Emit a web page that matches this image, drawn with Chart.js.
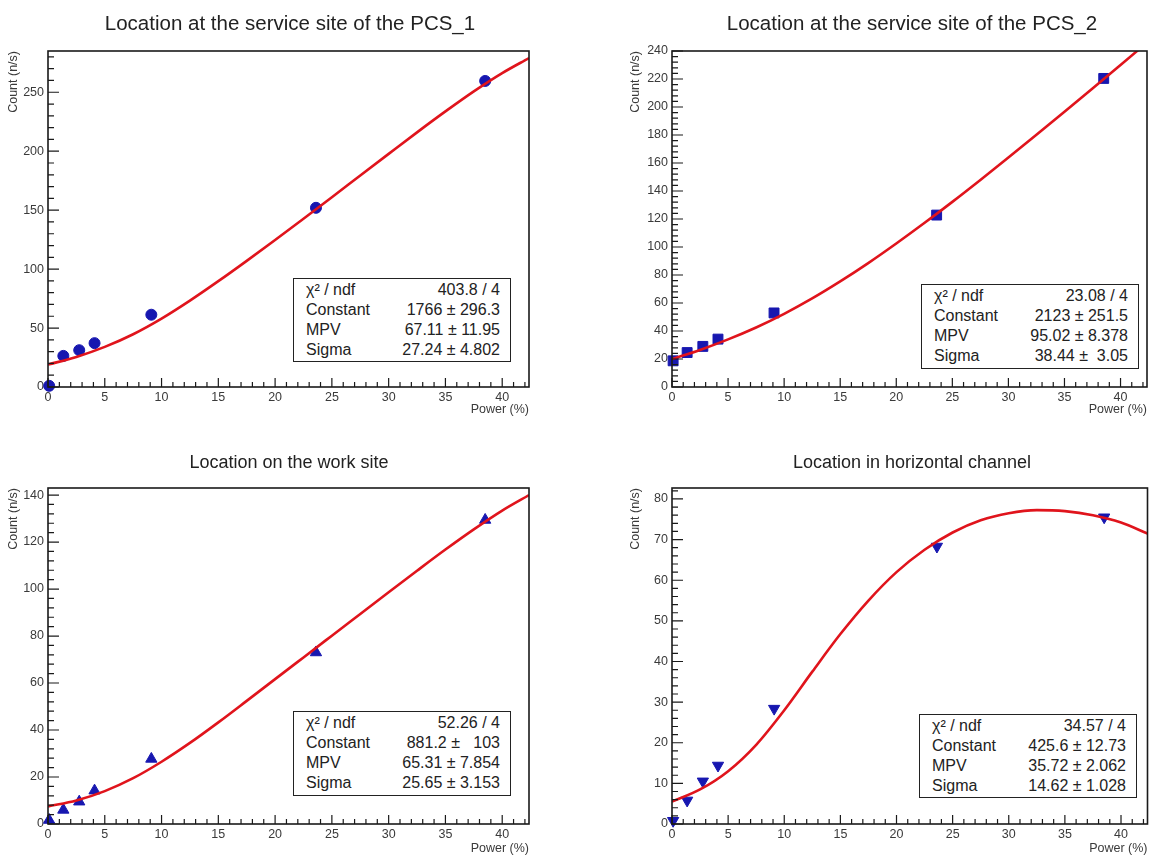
<!DOCTYPE html>
<html>
<head>
<meta charset="utf-8">
<script src="https://cdn.jsdelivr.net/npm/chart.js@4.4.1/dist/chart.umd.min.js"></script>
<style>
  body { margin: 0; background: #fff; font-family: 'Liberation Sans', Arial, sans-serif; }
  #wrap { position: relative; width: 1155px; height: 857px; overflow: hidden; }
  canvas { position: absolute; }
  .title { position: absolute; transform: translate(-50%, -50%); white-space: nowrap; color: #222; }
  .title.top { font-size: 20.5px; }
  .title.bottom { font-size: 18px; }
  .stats { position: absolute; box-sizing: border-box; border: 1.5px solid #222; background: #fff;
           font-size: 16px; color: #222; padding: 0 10px 0 12px; }
  .stats div { display: flex; justify-content: space-between; height: 20px; line-height: 20px; white-space: pre; }
</style>
</head>
<body>
<div id="wrap">
  <canvas id="c1" width="577" height="430" style="left:0;top:0"></canvas>
  <canvas id="c2" width="575" height="430" style="left:580px;top:0"></canvas>
  <canvas id="c3" width="577" height="427" style="left:0;top:430px"></canvas>
  <canvas id="c4" width="575" height="427" style="left:580px;top:430px"></canvas>
</div>
<script>
// measured points (power in %, count in n/s)
const power = [0.1, 1.35, 2.75, 4.1, 9.1, 23.6, 38.5];
const countPcs1 = [1, 26.4, 31.2, 37.2, 61.3, 152, 259.6];
const countPcs2 = [18.7, 24.6, 29, 34.2, 52.9, 122.8, 220.4];
const countWork = [1.7, 6, 9.5, 14.2, 27.7, 73, 129.4];
const countChannel = [0.8, 5.8, 10.5, 14.4, 28.4, 68.3, 75.5];

// landau fit curves
const fitPower = [0, 2.5, 5, 7.5, 10, 12.5, 15, 17.5, 20, 22.5, 25, 27.5, 30, 32.5, 35, 37.5, 40, 42.36];
const fitPcs1 = [19, 25.5, 34, 44.75, 58, 73.25, 89.75, 107, 124.75, 142.75, 161, 179.4, 197.75, 216, 233.75, 250.75, 266.25, 279];
const fitPcs2 = [20, 26.5, 34, 42.5, 52.25, 63.25, 75.4, 88.5, 102.5, 117.1, 132.25, 147.9, 163.9, 180.15, 196.65, 213.3, 230.05, 245.9];
const fitWork = [7.5, 10, 14, 19.5, 26.5, 34.5, 43.25, 52.4, 61.65, 70.9, 80.15, 89.4, 98.65, 107.8, 116.8, 125.4, 133.4, 140];
const fitChannel = [5.5, 8.5, 13, 19.5, 28, 37.5, 46.75, 55, 62, 67.5, 71.75, 74.75, 76.5, 77.25, 77, 76, 74.2, 71.5];

const titles = ['Location at the service site of the PCS_1', 'Location at the service site of the PCS_2',
                'Location on the work site', 'Location in horizontal channel'];

const statLabels = ['\u03c7\u00b2 / ndf', 'Constant', 'MPV', 'Sigma'];
const statPcs1 = ['403.8 / 4', '1766 \u00b1 296.3', '67.11 \u00b1 11.95', '27.24 \u00b1 4.802'];
const statPcs2 = ['23.08 / 4', '2123 \u00b1 251.5', '95.02 \u00b1 8.378', '38.44 \u00b1  3.05'];
const statWork = ['52.26 / 4', '881.2 \u00b1   103', '65.31 \u00b1 7.854', '25.65 \u00b1 3.153'];
const statChannel = ['34.57 / 4', '425.6 \u00b1 12.73', '35.72 \u00b1 2.062', '14.62 \u00b1 1.028'];

const yMax = [285, 240, 143, 82.7];
const yMajor = [50, 20, 20, 10];
const yMinor = [10, 4, 4, 2];

// ROOT-like frame with inner ticks
const rootFrame = {
  id: 'rootFrame',
  afterDraw(chart, args, opts) {
    const { ctx, chartArea: a, scales: { x, y } } = chart;
    ctx.save();
    ctx.strokeStyle = '#1a1a1a';
    ctx.lineWidth = 1.2;
    ctx.beginPath();
    for (let i = 0; i * opts.yMinor <= y.max + 1e-9; i++) {
      const py = y.getPixelForValue(i * opts.yMinor);
      const len = (i * opts.yMinor) % opts.yMajor === 0 ? 11 : 6;
      ctx.moveTo(a.left, py); ctx.lineTo(a.left + len, py);
    }
    for (let i = 0; i <= x.max + 1e-9; i++) {
      const px = x.getPixelForValue(i);
      const len = i % 5 === 0 ? 9 : 5;
      ctx.moveTo(px, a.bottom); ctx.lineTo(px, a.bottom - len);
    }
    ctx.stroke();
    ctx.lineWidth = 1.6;
    ctx.strokeRect(a.left, a.top, a.right - a.left, a.bottom - a.top);
    ctx.restore();
  }
};

const tickFont = { family: "'Liberation Sans', Arial, sans-serif", size: 12.5 };
const labelFont = { family: "'Liberation Sans', Arial, sans-serif", size: 12.5 };

const panels = [
  { id: 'c1', count: countPcs1, fit: fitPcs1, stats: statPcs1, marker: 'circle', r: 5.5, rot: 0,
    yw: 48, padTop: 51, padRight: 48, xh: 43, titlePad: 6.5, xTitlePad: 12.5,
    title: [290, 23, 'top'], box: [293, 278, 218, 84] },
  { id: 'c2', count: countPcs2, fit: fitPcs2, stats: statPcs2, marker: 'rect', r: 7, rot: 0,
    yw: 92, padTop: 51, padRight: 3, xh: 43, titlePad: 48.5, xTitlePad: 12.5,
    title: [912, 23, 'top'], box: [921, 284, 218, 85] },
  { id: 'c3', count: countWork, fit: fitWork, stats: statWork, marker: 'triangle', r: 6.5, rot: 0,
    yw: 48, padTop: 58, padRight: 48, xh: 33, titlePad: 6.5, xTitlePad: 0.5,
    title: [289, 462, 'bottom'], box: [293, 711, 218, 85] },
  { id: 'c4', count: countChannel, fit: fitChannel, stats: statChannel, marker: 'triangle', r: 6.5, rot: 180,
    yw: 92, padTop: 58, padRight: 3, xh: 33, titlePad: 48.5, xTitlePad: 0.5,
    title: [912, 462, 'bottom'], box: [919, 714, 218, 84] }
];

const wrap = document.getElementById('wrap');

panels.forEach((p, k) => {
  new Chart(document.getElementById(p.id), {
    type: 'scatter',
    data: {
      datasets: [
        {
          data: fitPower.map((x, i) => ({ x, y: p.fit[i] })),
          showLine: true,
          borderColor: '#e0141c',
          borderWidth: 2.6,
          pointRadius: 0,
          cubicInterpolationMode: 'monotone'
        },
        {
          data: power.map((x, i) => ({ x, y: p.count[i] })),
          pointStyle: p.marker,
          pointRotation: p.rot,
          pointRadius: p.r,
          backgroundColor: '#1717b0',
          borderColor: '#1717b0',
          borderWidth: 1,
          clip: false
        }
      ]
    },
    options: {
      responsive: false,
      animation: false,
      layout: { padding: { left: 0, top: p.padTop, right: p.padRight, bottom: 0 } },
      plugins: {
        legend: { display: false },
        tooltip: { enabled: false },
        rootFrame: { yMajor: yMajor[k], yMinor: yMinor[k] }
      },
      scales: {
        x: {
          type: 'linear', min: 0, max: 42.36,
          grid: { display: false, drawTicks: false }, border: { display: false },
          ticks: { stepSize: 5, includeBounds: false, autoSkip: false, maxRotation: 0,
                   font: tickFont, color: '#3a3a3a', padding: 3 },
          title: { display: true, text: 'Power (%)', align: 'end', font: labelFont, color: '#3a3a3a',
                   padding: { top: 0, bottom: p.xTitlePad } },
          afterFit: s => { s.height = p.xh; }
        },
        y: {
          type: 'linear', min: 0, max: yMax[k],
          grid: { display: false, drawTicks: false }, border: { display: false },
          ticks: { stepSize: yMajor[k], includeBounds: false, autoSkip: false,
                   font: tickFont, color: '#3a3a3a', padding: 4 },
          title: { display: true, text: 'Count (n/s)', align: 'end', font: labelFont, color: '#3a3a3a',
                   padding: { top: p.titlePad, bottom: 0 } },
          afterFit: s => { s.width = p.yw; }
        }
      }
    },
    plugins: [rootFrame]
  });

  const t = document.createElement('div');
  t.className = 'title ' + p.title[2];
  t.style.left = p.title[0] + 'px';
  t.style.top = p.title[1] + 'px';
  t.textContent = titles[k];
  wrap.appendChild(t);

  const box = document.createElement('div');
  box.className = 'stats';
  box.style.left = p.box[0] + 'px';
  box.style.top = p.box[1] + 'px';
  box.style.width = p.box[2] + 'px';
  box.style.height = p.box[3] + 'px';
  box.style.paddingTop = '1px';
  statLabels.forEach((lab, i) => {
    const row = document.createElement('div');
    row.innerHTML = '<span>' + lab + '</span><span>' + p.stats[i] + '</span>';
    box.appendChild(row);
  });
  wrap.appendChild(box);
});
</script>
</body>
</html>
